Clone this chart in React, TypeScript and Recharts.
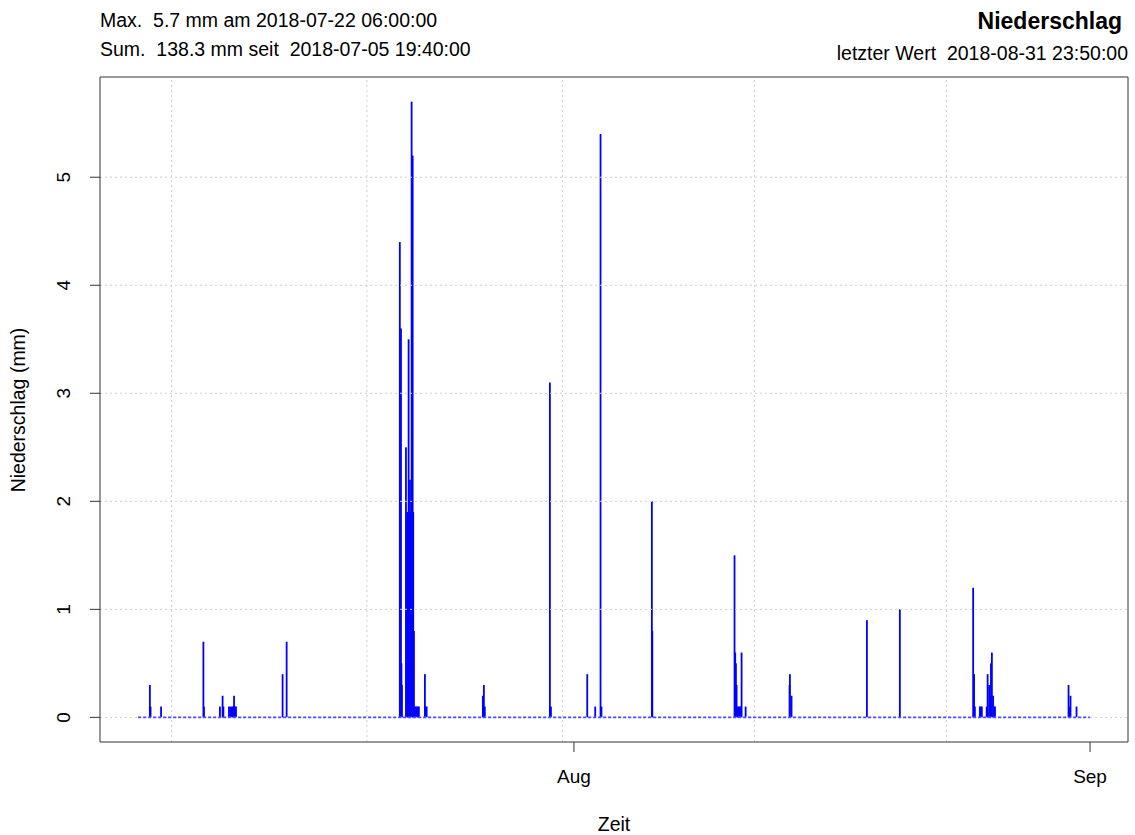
import { ComposedChart, Bar, XAxis, YAxis, ReferenceLine } from 'recharts';

// 10-minute precipitation sums (mm), non-zero intervals only
const rainTimes = [
    '2018-07-06 12:40', '2018-07-06 13:40', '2018-07-07 04:50',
    '2018-07-09 17:50', '2018-07-09 18:40',
    '2018-07-10 17:40', '2018-07-10 21:30', '2018-07-10 22:40',
    '2018-07-11 06:40', '2018-07-11 08:40', '2018-07-11 10:40', '2018-07-11 12:20',
    '2018-07-11 14:00', '2018-07-11 15:20', '2018-07-11 16:50',
    '2018-07-14 12:00', '2018-07-14 17:50',
    '2018-07-21 13:00', '2018-07-21 14:40', '2018-07-21 15:20', '2018-07-21 16:00',
    '2018-07-21 21:50', '2018-07-21 23:20', '2018-07-22 00:30', '2018-07-22 01:40',
    '2018-07-22 02:40', '2018-07-22 03:40', '2018-07-22 04:50', '2018-07-22 06:00',
    '2018-07-22 07:30', '2018-07-22 08:20', '2018-07-22 09:20', '2018-07-22 10:50',
    '2018-07-22 12:20', '2018-07-22 13:50', '2018-07-22 15:10', '2018-07-22 16:30',
    '2018-07-23 01:10', '2018-07-23 02:20', '2018-07-23 03:40',
    '2018-07-26 12:40', '2018-07-26 14:10', '2018-07-26 15:30',
    '2018-07-30 13:20', '2018-07-30 14:50',
    '2018-08-01 19:10', '2018-08-02 06:40', '2018-08-02 14:20', '2018-08-02 15:40',
    '2018-08-05 16:20', '2018-08-05 17:00',
    '2018-08-10 15:30', '2018-08-10 16:30', '2018-08-10 17:30', '2018-08-10 18:30',
    '2018-08-10 19:50', '2018-08-10 21:20', '2018-08-10 22:50', '2018-08-11 00:10',
    '2018-08-11 01:40', '2018-08-11 07:30',
    '2018-08-13 22:50', '2018-08-13 23:20', '2018-08-14 01:40',
    '2018-08-18 14:20', '2018-08-20 13:50',
    '2018-08-24 23:30', '2018-08-25 00:50', '2018-08-25 02:00', '2018-08-25 09:10',
    '2018-08-25 10:40', '2018-08-25 12:00', '2018-08-25 19:00', '2018-08-25 20:20',
    '2018-08-25 22:30', '2018-08-25 23:40', '2018-08-26 01:10', '2018-08-26 02:30',
    '2018-08-26 04:20', '2018-08-26 05:40', '2018-08-26 07:00',
    '2018-08-30 17:00', '2018-08-30 18:20', '2018-08-30 19:50', '2018-08-31 04:30',
];

const rainValues = [
    0.3, 0.1, 0.1,
    0.7, 0.1,
    0.1, 0.2, 0.1,
    0.1, 0.1, 0.1, 0.1,
    0.2, 0.1, 0.1,
    0.4, 0.7,
    4.4, 3.6, 0.5, 0.3,
    2.5, 1.9, 1.9, 3.5,
    1.9, 2.2, 1.9, 5.7,
    5.2, 1.9, 0.8, 0.1,
    0.1, 0.1, 0.1, 0.1,
    0.4, 0.1, 0.1,
    0.2, 0.3, 0.1,
    3.1, 0.1,
    0.4, 0.1, 5.4, 0.1,
    2.0, 0.8,
    1.5, 0.6, 0.5, 0.3,
    0.1, 0.1, 0.1, 0.1,
    0.6, 0.1,
    0.3, 0.4, 0.2,
    0.9, 1.0,
    1.2, 0.4, 0.1, 0.1,
    0.1, 0.1, 0.1, 0.4,
    0.3, 0.2, 0.5, 0.6,
    0.2, 0.1, 0.1,
    0.3, 0.1, 0.2, 0.1,
];

const firstTime = '2018-07-05 19:40';
const lastTime = '2018-08-31 23:50';

const monthTickTimes = ['2018-08-01 00:00', '2018-09-01 00:00'];
const monthTickLabels = ['Aug', 'Sep'];

const gridTimes = [
    '2018-07-07 20:00', '2018-07-19 13:33', '2018-07-31 07:20',
    '2018-08-11 20:06', '2018-08-23 08:53',
];
const yTicks = [0, 1, 2, 3, 4, 5];

const FONT = '"Liberation Sans", Arial, Helvetica, sans-serif';
const FRAME = '#333';
const RAIN = '#0000ff';

const parseTime = (s: string) => {
    const [d, t] = s.split(' ');
    const [Y, M, D] = d.split('-').map(Number);
    const [h, m] = t.split(':').map(Number);
    return Date.UTC(Y, M - 1, D, h, m);
};

const data = rainTimes.map((s, i) => ({ t: parseTime(s), v: rainValues[i] }));
const start = parseTime(firstTime);
const end = parseTime(lastTime);
const pad = (end - start) * 0.04;
const xDomain = [start - pad, end + pad];
const yDomain = [-0.228, 5.928];
const monthTicks = monthTickTimes.map(parseTime);

// R type="h": thin vertical line from 0 up to the value
const Spike = ({ x, y, width, height }: any) => {
    if (!height) return null;
    const cx = x + width / 2;
    return <rect x={cx - 0.9} y={y} width={1.8} height={height} fill={RAIN} />;
};

const XTick = ({ x, y, payload }: any) => {
    const idx = monthTicks.indexOf(payload.value);
    return (
        <text x={x} y={y} dy={29} textAnchor="middle" fontFamily={FONT} fontSize={19} fill="#000">
            {monthTickLabels[idx]}
        </text>
    );
};

const YTick = ({ x, y, payload }: any) => (
    <text
        x={x - 18}
        y={y}
        transform={`rotate(-90, ${x - 18}, ${y})`}
        textAnchor="middle"
        fontFamily={FONT}
        fontSize={19}
        fill="#000"
    >
        {payload.value}
    </text>
);

export default function App() {
    return (
        <div style={{ position: 'absolute', left: 0, top: 0, width: 1135, height: 835, background: '#fff' }}>
            <ComposedChart
                width={1135}
                height={835}
                data={data}
                margin={{ top: 77, right: 7, bottom: 43, left: 40 }}
            >
                <XAxis
                    type="number"
                    dataKey="t"
                    domain={xDomain}
                    allowDataOverflow
                    ticks={monthTicks}
                    interval={0}
                    tick={<XTick />}
                    tickSize={10}
                    height={50}
                    axisLine={{ stroke: FRAME }}
                    tickLine={{ stroke: FRAME }}
                />
                <YAxis
                    type="number"
                    domain={yDomain}
                    allowDataOverflow
                    ticks={yTicks}
                    interval={0}
                    tick={<YTick />}
                    tickSize={10}
                    width={60}
                    axisLine={{ stroke: FRAME }}
                    tickLine={{ stroke: FRAME }}
                />
                {yTicks.map((v) => (
                    <ReferenceLine key={`h${v}`} y={v} stroke="#cfcfcf" strokeDasharray="2 3" />
                ))}
                {gridTimes.map((s) => (
                    <ReferenceLine key={s} x={parseTime(s)} stroke="#cfcfcf" strokeDasharray="2 3" />
                ))}
                {/* plot frame (top and right sides) */}
                <ReferenceLine y={yDomain[1]} stroke={FRAME} ifOverflow="visible" />
                <ReferenceLine x={xDomain[1]} stroke={FRAME} ifOverflow="visible" />
                <Bar dataKey="v" fill={RAIN} shape={<Spike />} isAnimationActive={false} />
                <ReferenceLine
                    segment={[{ x: start, y: 0 }, { x: end, y: 0 }]}
                    stroke="#4d4dff"
                    strokeWidth={1.6}
                    strokeDasharray="3 2"
                />
            </ComposedChart>
            <svg
                width={1135}
                height={835}
                style={{ position: 'absolute', left: 0, top: 0, pointerEvents: 'none' }}
                fontFamily={FONT}
            >
                <text x={100} y={27} fontSize={19.5} fill="#000" xmlSpace="preserve">
                    Max.  5.7 mm am 2018-07-22 06:00:00
                </text>
                <text x={100} y={56} fontSize={19.5} fill="#000" xmlSpace="preserve">
                    Sum.  138.3 mm seit  2018-07-05 19:40:00
                </text>
                <text x={1122} y={29} fontSize={23} fontWeight="bold" textAnchor="end" fill="#000">
                    Niederschlag
                </text>
                <text x={1128} y={60} fontSize={19.5} textAnchor="end" fill="#000" xmlSpace="preserve">
                    letzter Wert  2018-08-31 23:50:00
                </text>
                <text x={614} y={831} fontSize={19.5} textAnchor="middle" fill="#000">
                    Zeit
                </text>
                <text
                    x={25}
                    y={410}
                    fontSize={19.5}
                    textAnchor="middle"
                    transform="rotate(-90, 25, 410)"
                    fill="#000"
                >
                    Niederschlag (mm)
                </text>
            </svg>
        </div>
    );
}
